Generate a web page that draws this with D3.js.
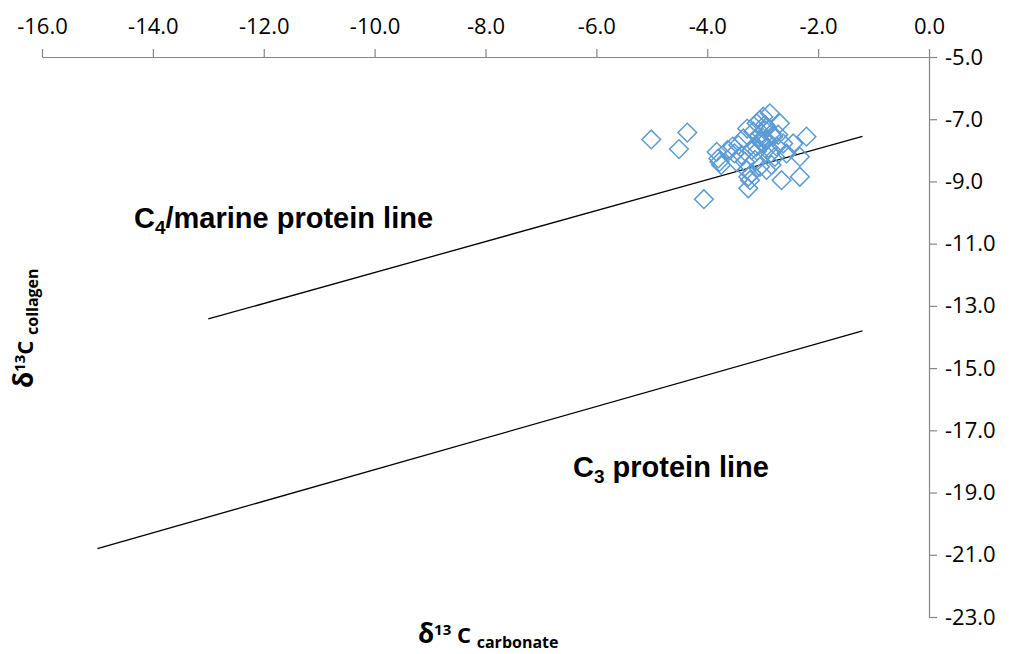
<!DOCTYPE html>
<html>
<head>
<meta charset="utf-8">
<script src="https://cdn.jsdelivr.net/npm/d3@7"></script>
<style>
  body { margin: 0; background: #fff; }
  svg { display: block; }
</style>
</head>
<body>
<div id="wrapper"></div>
<script>
// carbonate vs collagen d13C values
const carbonate = [-5.01, -4.36, -4.51, -4.06, -3.83, -3.80, -3.78, -3.75, -3.63, -3.54,
  -3.51, -3.44, -3.38, -3.32, -3.29, -3.26, -3.23, -3.26, -3.20, -3.17,
  -3.11, -3.05, -2.99, -3.08, -3.02, -2.96, -2.93, -2.99, -2.93, -2.87,
  -2.84, -2.81, -2.69, -2.75, -2.78, -2.84, -2.93, -2.63, -2.57, -2.45,
  -2.33, -2.21, -2.66, -2.33, -3.05, -3.14, -3.20, -3.35, -3.11, -3.47,
  -3.00, -2.90, -3.10, -2.72, -3.28, -2.86, -3.04, -2.96]
const collagen = [-7.65, -7.43, -7.96, -9.57, -8.05, -8.26, -8.37, -8.47, -7.99, -7.88,
  -8.10, -7.83, -8.15, -8.37, -8.63, -8.85, -8.96, -9.22, -7.99, -7.40,
  -7.13, -7.03, -6.92, -7.56, -7.46, -7.35, -7.24, -7.78, -7.67, -6.81,
  -7.46, -7.56, -7.13, -7.88, -8.21, -8.47, -8.63, -7.78, -8.10, -7.78,
  -8.21, -7.56, -8.96, -8.85, -8.53, -8.31, -8.74, -7.62, -7.88, -8.37,
  -7.60, -7.92, -8.02, -7.50, -7.30, -8.10, -7.72, -7.18]

// protein reference lines (end points)
const c4LineX = [-13.0, -1.2]
const c4LineY = [-13.42, -7.55]
const c3LineX = [-15.0, -1.2]
const c3LineY = [-20.8, -13.8]

const xTicks = [-16, -14, -12, -10, -8, -6, -4, -2, 0]
const yTicks = [-5, -7, -9, -11, -13, -15, -17, -19, -21, -23]

const width = 1012
const height = 654
const plot = { left: 42, right: 929, top: 57, bottom: 617 }

const svg = d3.select('#wrapper').append('svg')
    .attr('width', width)
    .attr('height', height)

const xScale = d3.scaleLinear().domain([-16, 0]).range([plot.left, plot.right])
const yScale = d3.scaleLinear().domain([-5, -23]).range([plot.top, plot.bottom])

// axes
const axisColor = '#868686'
const fmt = d => d.toFixed(1)

const xAxis = svg.append('g')
    .attr('transform', `translate(0,${plot.top})`)
    .call(d3.axisTop(xScale).tickValues(xTicks).tickFormat(fmt).tickSize(8).tickSizeOuter(0).tickPadding(15))

const yAxis = svg.append('g')
    .attr('transform', `translate(${plot.right},0)`)
    .call(d3.axisRight(yScale).tickValues(yTicks).tickFormat(fmt).tickSize(8).tickSizeOuter(0).tickPadding(8))

svg.selectAll('.domain, .tick line').attr('stroke', axisColor).attr('stroke-width', 1.2)
svg.selectAll('.tick text')
    .attr('fill', '#000')
    .style('font-family', '"Open Sans", sans-serif')
    .style('font-size', '22px')

// protein lines
const line = d3.line().x(d => xScale(d[0])).y(d => yScale(d[1]))
svg.append('path')
    .datum(d3.zip(c4LineX, c4LineY))
    .attr('d', line).attr('fill', 'none').attr('stroke', '#000').attr('stroke-width', 1.3)
svg.append('path')
    .datum(d3.zip(c3LineX, c3LineY))
    .attr('d', line).attr('fill', 'none').attr('stroke', '#000').attr('stroke-width', 1.3)

// points (diamonds)
const diamond = d3.symbol().type(d3.symbolSquare).size(175)
svg.append('g').selectAll('path')
    .data(d3.zip(carbonate, collagen))
    .join('path')
    .attr('d', diamond)
    .attr('transform', d => `translate(${xScale(d[0])},${yScale(d[1])}) rotate(45)`)
    .attr('fill', 'none')
    .attr('stroke', '#5b9bd5')
    .attr('stroke-width', 1.5)

// line labels
const lab = svg.append('g')
    .style('font-family', '"Liberation Sans", Arial, sans-serif')
    .style('font-weight', 'bold')
    .attr('fill', '#000')

const c4 = lab.append('text').attr('x', 134).attr('y', 228).style('font-size', '29px')
c4.append('tspan').text('C')
c4.append('tspan').attr('dy', 6).style('font-size', '19px').text('4')
c4.append('tspan').attr('dy', -6).text('/marine protein line')

const c3 = lab.append('text').attr('x', 573).attr('y', 477).style('font-size', '29px')
c3.append('tspan').text('C')
c3.append('tspan').attr('dy', 6).style('font-size', '19px').text('3')
c3.append('tspan').attr('dy', -6).text(' protein line')

// axis titles
const titles = svg.append('g')
    .style('font-family', '"Open Sans", sans-serif')
    .style('font-weight', 'bold')
    .attr('fill', '#000')

const xt = titles.append('text').attr('x', 418).attr('y', 643).style('font-size', '22px')
xt.append('tspan').style('font-size', '26px').text('δ')
xt.append('tspan').attr('dy', -8).style('font-size', '15px').text('13')
xt.append('tspan').attr('dy', 8).text(' C ')
xt.append('tspan').attr('dy', 5).style('font-size', '16px').text('carbonate')

const yt = titles.append('text')
    .attr('transform', 'translate(33,388) rotate(-90)')
    .style('font-size', '22px')
yt.append('tspan').style('font-size', '26px').text('δ')
yt.append('tspan').attr('dy', -8).style('font-size', '15px').text('13')
yt.append('tspan').attr('dy', 8).text('C ')
yt.append('tspan').attr('dy', 5).style('font-size', '16px').text('collagen')
</script>
</body>
</html>
